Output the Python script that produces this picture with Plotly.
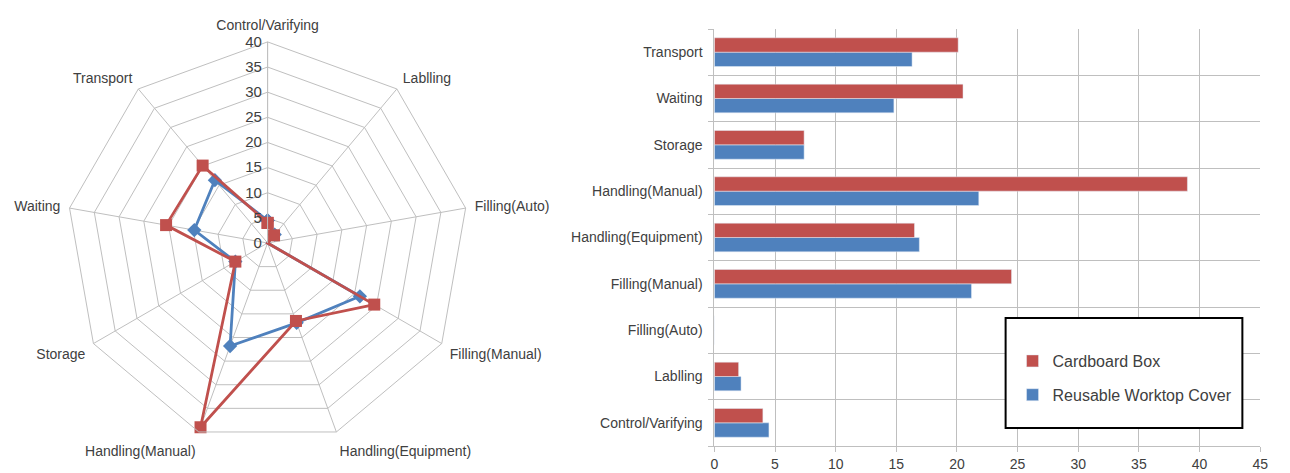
import plotly.graph_objects as go

# categories in clockwise radar order / bottom-to-top bar order
categories = ["Control/Varifying", "Lablling", "Filling(Auto)", "Filling(Manual)",
              "Handling(Equipment)", "Handling(Manual)", "Storage", "Waiting", "Transport"]
cardboard = [4.0, 2.0, 0.0, 24.5, 16.5, 39.0, 7.4, 20.5, 20.1]
reusable = [4.5, 2.2, 0.0, 21.2, 16.9, 21.8, 7.4, 14.8, 16.3]

RED = "#C0504D"
BLUE = "#4F81BD"
GRID = "#BFBFBF"
TXT = "#404040"
FONT = "Liberation Sans"

# page body has an 8px margin, so the figure is a bit smaller than the window
W, H = 1282, 465


def px(x):
    return (x - 8) / W


def py(y):
    return (473 - y) / H


fig = go.Figure()

# radar (closed loops)
fig.add_trace(go.Scatterpolar(
    r=reusable + reusable[:1], theta=categories + categories[:1],
    mode="lines+markers", name="Reusable Worktop Cover", showlegend=False,
    line=dict(color=BLUE, width=2.8),
    marker=dict(symbol="diamond", size=11, color=BLUE),
))
fig.add_trace(go.Scatterpolar(
    r=cardboard + cardboard[:1], theta=categories + categories[:1],
    mode="lines+markers", name="Cardboard Box", showlegend=False,
    line=dict(color=RED, width=2.8),
    marker=dict(symbol="square", size=12, color=RED),
))

# bars
fig.add_trace(go.Bar(
    y=categories, x=reusable, orientation="h", name="Reusable Worktop Cover",
    marker=dict(color=BLUE), xaxis="x", yaxis="y", legendrank=2, legendgroup="b",
))
fig.add_trace(go.Bar(
    y=categories, x=cardboard, orientation="h", name="Cardboard Box",
    marker=dict(color=RED), xaxis="x", yaxis="y", legendrank=1, legendgroup="a",
))

fig.update_layout(
    width=W, height=H,
    margin=dict(l=0, r=0, t=0, b=0),
    paper_bgcolor="white", plot_bgcolor="white",
    font=dict(family=FONT, size=14, color=TXT),
    polar=dict(
        domain=dict(x=[px(63), px(469)], y=[py(446), py(40)]),
        bgcolor="white",
        gridshape="linear",
        radialaxis=dict(range=[0, 40], dtick=5, angle=90, tickangle=90,
                        side="counterclockwise", gridcolor=GRID,
                        showline=True, linecolor=GRID, ticks="",
                        tickfont=dict(size=15, color=TXT)),
        angularaxis=dict(rotation=90, direction="clockwise", gridcolor=GRID,
                         showline=True, linecolor=GRID, ticks="outside",
                         ticklen=6, tickcolor="rgba(0,0,0,0)",
                         tickfont=dict(size=14, color=TXT)),
    ),
    xaxis=dict(domain=[px(717), px(1268)], range=[0, 45], dtick=5,
               showgrid=True, gridcolor=GRID, showline=True, linecolor=GRID,
               ticks="outside", ticklen=5, tickcolor=GRID, zeroline=False,
               tickfont=dict(size=14, color=TXT), anchor="y"),
    yaxis=dict(domain=[py(446), py(29)], type="category",
               categoryorder="array", categoryarray=categories,
               tickson="boundaries", showgrid=True, gridcolor=GRID,
               showline=True, linecolor=GRID, ticks="outside", ticklen=5,
               tickcolor=GRID, tickfont=dict(size=14, color=TXT), anchor="x",
               ticklabelstandoff=8),
    barmode="group", bargap=0.38, bargroupgap=0,
    legend=dict(x=px(1018), y=py(344), xanchor="left", yanchor="top",
                bgcolor="rgba(0,0,0,0)", borderwidth=0,
                font=dict(size=16, color=TXT), tracegroupgap=10,
                itemwidth=30),
    shapes=[dict(type="rect", xref="paper", yref="paper",
                 x0=px(1011), x1=px(1250), y0=py(428), y1=py(318),
                 line=dict(color="black", width=2), fillcolor="white",
                 layer="above")],
)

fig.write_html("out.html")
